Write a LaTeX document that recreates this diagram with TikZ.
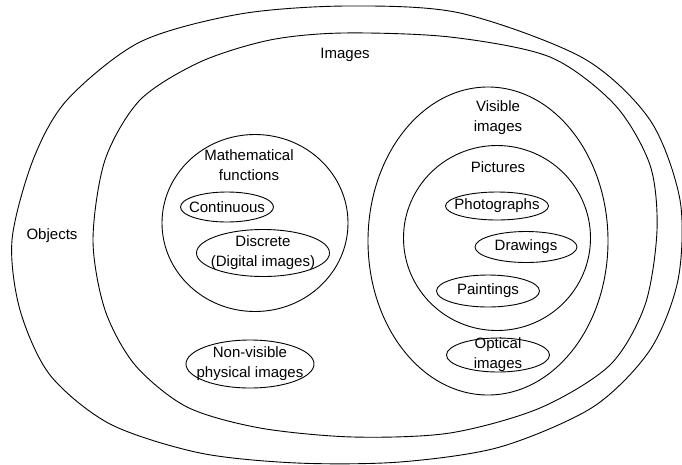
\documentclass[tikz,border=0pt]{standalone}
\usepackage{fontspec}
\setmainfont{Liberation Sans}
\usetikzlibrary{shapes.geometric}

\begin{document}
\begin{tikzpicture}[x=1pt, y=-1pt, line width=0.9pt, font=\fontsize{15}{20}\selectfont,
  region/.style={ellipse, draw, inner sep=0pt},
  caption/.style={align=center, inner sep=1pt}]
  {
  \useasboundingbox (0,0) rectangle (682,464);
  % objects
  \draw plot[smooth cycle] coordinates {(347,6) (460,13) (583,58) (650,120) (680,200) (678,280) (650,350) (593,407) (500,447) (400,462) (297,463) (200,453) (110,424) (50,375) (20,310) (12,240) (33,160) (67,100) (140,42) (240,14)};
  % images
  \draw plot[smooth cycle] coordinates {(343,33) (450,37) (550,57) (615,105) (650,165) (657,230) (645,305) (610,365) (540,408) (450,433) (353,437) (260,428) (187,407) (135,365) (105,310) (93,240) (105,160) (140,100) (200,62) (270,40)};

  \node[caption] (objects) at (52,236) {Objects};
  \node[caption] (images) at (345,55) {Images};

  \node[region, minimum width=186pt, minimum height=177pt] (math) at (255,223) {};
  \node[caption] (mathtxt) at (249,165) {Mathematical\\functions};
  \node[region, minimum width=93pt, minimum height=30pt] (cont) at (227,207) {};
  \node[caption] (conttxt) at (cont.center) {Continuous};
  \node[region, minimum width=133pt, minimum height=47pt] (disc) at (263,253) {};
  \node[caption] (disctxt) at (disc.center) {Discrete\\(Digital images)};
  \node[region, minimum width=128pt, minimum height=48pt] (nonvis) at (250,364) {};
  \node[caption] (nonvistxt) at (nonvis.center) {Non-visible\\physical images};

  \node[region, minimum width=240pt, minimum height=308pt] (visible) at (488,241) {};
  \node[caption] (visibletxt) at (498,118) {Visible\\images};
  \node[region, minimum width=187pt, minimum height=185pt] (pict) at (497,238) {};
  \node[caption, below of=visibletxt, node distance=49pt] (picttxt) {Pictures};
  \node[region, minimum width=103pt, minimum height=28pt] (photo) at (497,206) {};
  \node[caption] (phototxt) at (photo.center) {Photographs};
  \node[region, minimum width=102pt, minimum height=31pt] (drawing) at (526,247) {};
  \node[caption] (drawingtxt) at (drawing.center) {Drawings};
  \node[region, minimum width=103pt, minimum height=32pt] (paint) at (488,291) {};
  \node[caption] (painttxt) at (paint.center) {Paintings};
  \node[region, minimum width=103pt, minimum height=34pt] (optic) at (498,355) {};
  \node[caption] (optictxt) at (optic.center) {Optical\\images};
  }
\end{tikzpicture}
\end{document}
